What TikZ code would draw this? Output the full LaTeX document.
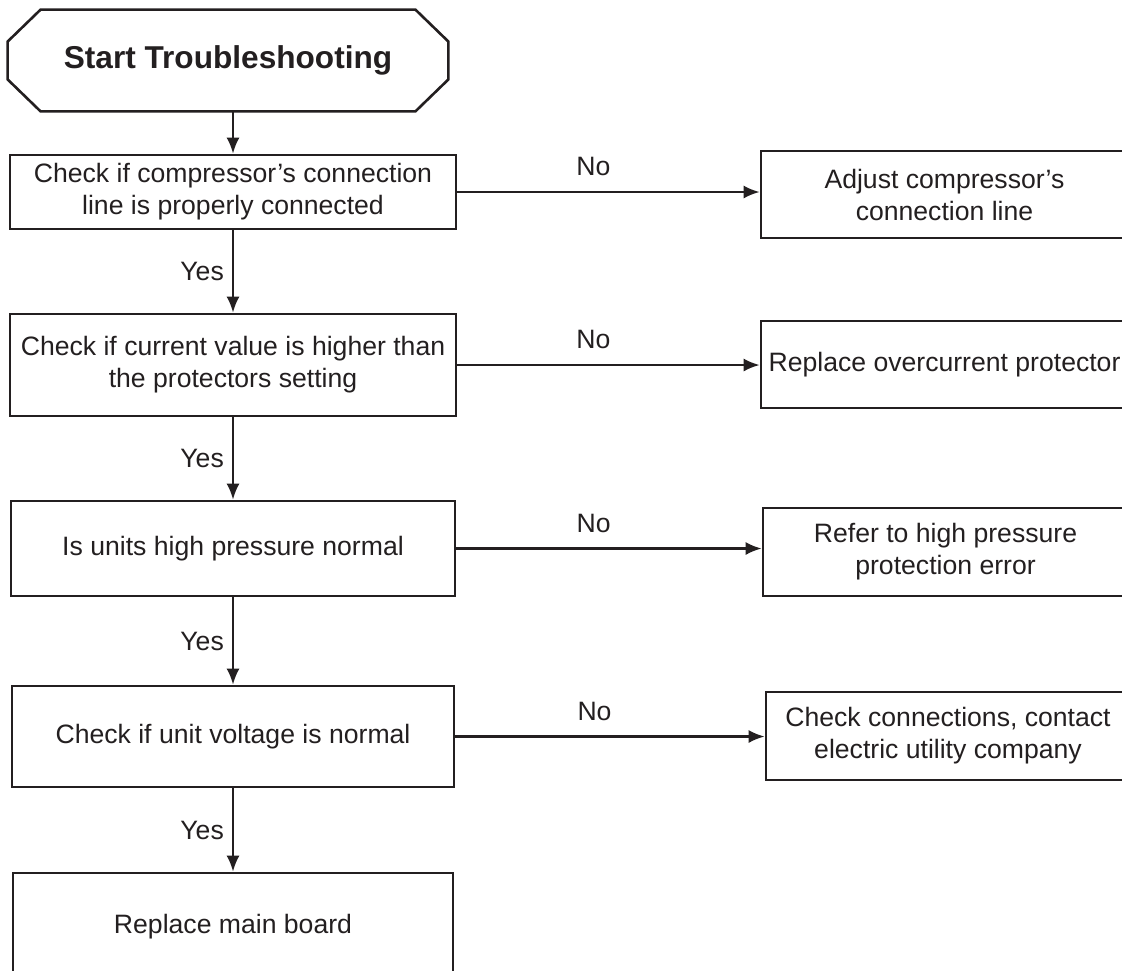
\documentclass[tikz,border=0pt]{standalone}
\usepackage{fontspec}
\setmainfont{Liberation Sans}
\usepackage{xcolor}
\usetikzlibrary{arrows.meta,positioning,calc}
\definecolor{ink}{HTML}{231F20}

\begin{document}
\begin{tikzpicture}[x=0.5pt,y=-0.5pt,
  box/.style={draw=ink,line width=1.3pt,text=ink,align=center,inner sep=0pt,font=\fontsize{13.3}{16}\selectfont},
  flow/.style={ink,line width=1.2pt,-{Latex[length=8pt,width=6.5pt]}},
  lbl/.style={text=ink,inner sep=0pt,font=\fontsize{13.3}{16}\selectfont}]
  \useasboundingbox (0,0) rectangle (1122,970);
  \clip (0,0) rectangle (1122,970);
  \node[text=ink,font=\fontsize{15.8}{19}\selectfont\bfseries,minimum width=220pt,minimum height=50.5pt] (start) at (228,60.5) {Start Troubleshooting};
  \draw[ink,line width=1.3pt] ($(start.north west)+(33,0)$) -- ($(start.north east)+(-33,0)$)
    -- ($(start.north east)+(0,32)$) -- ($(start.south east)+(0,-32)$)
    -- ($(start.south east)+(-33,0)$) -- ($(start.south west)+(33,0)$)
    -- ($(start.south west)+(0,-32)$) -- ($(start.north west)+(0,32)$) -- cycle;
  \node[box,minimum width=223pt,minimum height=37pt] (chk1) at (233,192) {Check if compressor’s connection\\line is properly connected};
  \node[box,minimum width=223pt,minimum height=51pt] (chk2) at (233,365) {Check if current value is higher than\\the protectors setting};
  \node[box,minimum width=222pt,minimum height=47.5pt] (chk3) at (233,548.5) {Is units high pressure normal};
  \node[box,minimum width=221pt,minimum height=50.5pt] (chk4) at (233,736.5) {Check if unit voltage is normal};
  \node[box,minimum width=220pt,minimum height=53.5pt] (board) at (233,926.5) {Replace main board};
  \node[box,minimum width=183.5pt,minimum height=43.5pt] (fix1) at (944.5,194.5) {Adjust compressor’s\\connection line};
  \node[box,minimum width=183.5pt,minimum height=43.5pt] (fix2) at (944.5,364.5) {Replace overcurrent protector};
  \node[box,minimum width=182.5pt,minimum height=44pt] (fix3) at (945.5,552) {Refer to high pressure\\protection error};
  \node[box,minimum width=182pt,minimum height=44pt] (fix4) at (948,736) {Check connections, contact\\electric utility company};
  \draw[flow] (start.south -| chk1.north) -- (chk1.north);
  \draw[flow] (chk1) -- node[lbl,left=4pt]{Yes} (chk2);
  \draw[flow] (chk2) -- node[lbl,left=4pt]{Yes} (chk3);
  \draw[flow] (chk3) -- node[lbl,left=4pt]{Yes} (chk4);
  \draw[flow] (chk4) -- node[lbl,left=4pt]{Yes} (board);
  \draw[flow] (chk1.east) -- node[lbl,above=7.5pt,pos=0.45]{No} (chk1.east -| fix1.west);
  \draw[flow] (chk2.east) -- node[lbl,above=7.5pt,pos=0.45]{No} (chk2.east -| fix2.west);
  \draw[flow] (chk3.east) -- node[lbl,above=7.5pt,pos=0.45]{No} (chk3.east -| fix3.west);
  \draw[flow] (chk4.east) -- node[lbl,above=7.5pt,pos=0.45]{No} (chk4.east -| fix4.west);
\end{tikzpicture}
\end{document}
